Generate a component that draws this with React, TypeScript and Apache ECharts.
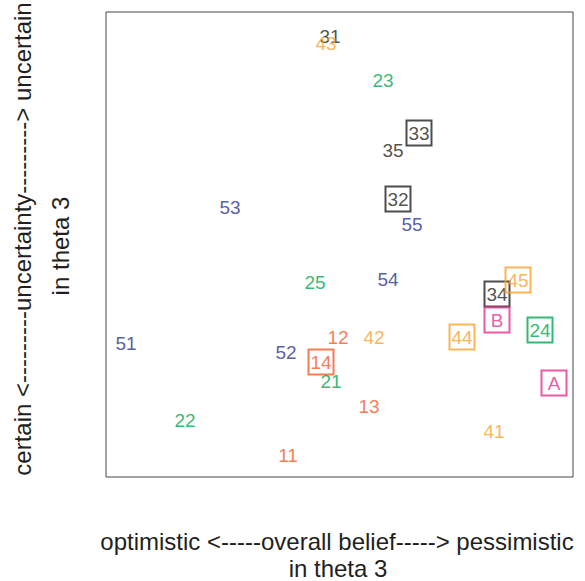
import React, { useEffect, useRef } from "react";
import * as echarts from "echarts";

const labels = ["31", "23", "33", "35", "32", "55", "53", "25", "54", "34", "B", "24", "12", "51", "52", "14", "21", "A", "13", "22", "11", "43", "45", "44", "42", "41"];
const xValues = [224, 277, 313, 287, 292, 306, 124, 209, 282, 391, 391, 434, 232, 20, 180, 215, 225, 448, 263, 79, 182, 220, 412, 356, 268, 388];
const yValues = [441, 397, 344, 327, 278, 253, 270, 195, 198, 183, 157, 147, 140, 134, 125, 115, 96, 94, 71, 57, 22, 434, 197, 140, 140, 46];
const groups = ["black", "green", "black", "black", "black", "blue", "blue", "green", "blue", "black", "pink", "green", "red", "blue", "blue", "red", "green", "pink", "red", "green", "red", "orange", "orange", "orange", "orange", "orange"];
const boxed = [false, false, true, false, true, false, false, false, false, true, true, true, false, false, false, true, false, true, false, false, false, false, true, true, false, false];

const xTitle = ["optimistic <-----overall belief-----> pessimistic", "in theta 3"];
const yTitle = ["certain <---------uncertainty---------> uncertain", "in theta 3"];

const palette: Record<string, string> = {
  black: "#231f20",
  green: "#00a651",
  blue: "#2e3192",
  red: "#f15a29",
  pink: "#e6318b",
  orange: "#f7a12f",
};

export default function App() {
  const ref = useRef<HTMLDivElement>(null);
  useEffect(() => {
    if (!ref.current) return;
    const chart = echarts.init(ref.current, undefined, { renderer: "svg" });
    const font = "'Liberation Sans', Arial, sans-serif";
    const data = labels.map((name, i) => {
      const c = palette[groups[i]];
      return {
        name,
        value: [xValues[i], yValues[i]],
        label: boxed[i]
          ? { color: c, borderColor: c, borderWidth: 1, width: 21, align: "center", padding: [4, 2, 2, 2], backgroundColor: "rgba(255,255,255,0)" }
          : { color: c },
      };
    });
    chart.setOption({
      animation: false,
      grid: { left: 106, top: 12, right: 12, bottom: 104, show: true, borderColor: "#444", borderWidth: 1, containLabel: false },
      xAxis: { type: "value", min: 0, max: 467, axisLine: { show: false }, axisTick: { show: false }, axisLabel: { show: false }, splitLine: { show: false } },
      yAxis: { type: "value", min: 0, max: 465, axisLine: { show: false }, axisTick: { show: false }, axisLabel: { show: false }, splitLine: { show: false } },
      series: [
        {
          type: "scatter",
          symbolSize: 0,
          data,
          label: {
            show: true,
            position: "inside",
            formatter: "{b}",
            fontFamily: font,
            fontSize: 19,
            lineHeight: 19,
            align: "center",
            verticalAlign: "middle",
          },
        },
      ],
      graphic: [
        { type: "text", x: 337, y: 541, style: { text: xTitle[0], font: `24px ${font}`, fill: "#231f20", textAlign: "center", textVerticalAlign: "middle" } },
        { type: "text", x: 338, y: 568, style: { text: xTitle[1], font: `24px ${font}`, fill: "#231f20", textAlign: "center", textVerticalAlign: "middle" } },
        { type: "text", x: 22, y: 239, rotation: Math.PI / 2, style: { text: yTitle[0], font: `24px ${font}`, fill: "#231f20", textAlign: "center", textVerticalAlign: "middle" } },
        { type: "text", x: 60, y: 246, rotation: Math.PI / 2, style: { text: yTitle[1], font: `24px ${font}`, fill: "#231f20", textAlign: "center", textVerticalAlign: "middle" } },
      ],
    });
    return () => chart.dispose();
  }, []);
  return <div ref={ref} style={{ position: "absolute", left: 0, top: 0, width: 585, height: 581 }} />;
}
